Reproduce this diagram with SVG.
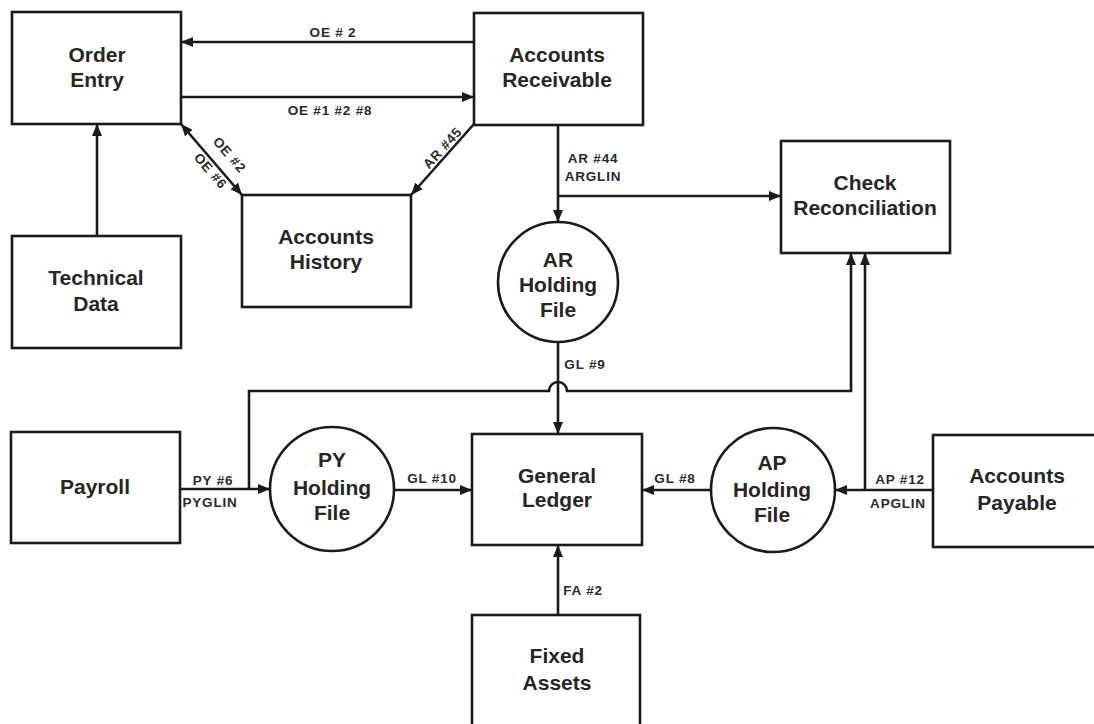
<svg xmlns="http://www.w3.org/2000/svg" width="1094" height="724" viewBox="0 0 1094 724">
<style>
.box{fill:#fff;stroke:#1a1a1a;stroke-width:2.6}
.node{font-family:"Liberation Sans",Arial,sans-serif;font-weight:bold;font-size:21px;fill:#262626;text-anchor:middle}
.lbl{font-family:"Liberation Sans",Arial,sans-serif;font-weight:bold;font-size:13.5px;fill:#2a2a2a;text-anchor:middle;letter-spacing:0.8px}
.c{fill:none;stroke:#1a1a1a;stroke-width:2.6}
.a{marker-end:url(#ah)}
</style>
<defs>
<marker id="ah" viewBox="0 0 12 10" refX="12" refY="5" markerWidth="12" markerHeight="10" markerUnits="userSpaceOnUse" orient="auto-start-reverse">
<path d="M0,0 L12,5 L0,10 Z" fill="#1a1a1a"/>
</marker>
</defs>
<rect width="1094" height="724" fill="#fff"/>
<g id="connectors">
<path class="c a" d="M474,42 H181"/>
<path class="c a" d="M181,97 H474"/>
<path class="c a" d="M97,236 V124"/>
<path class="c a" d="M474,124 L411,195"/>
<path class="c" d="M181,124 L242,195" marker-start="url(#ah)" marker-end="url(#ah)"/>
<path class="c a" d="M558,124 V222"/>
<path class="c a" d="M558,196 H781"/>
<path class="c a" d="M249,489 V391 H549 A9,9 0 0 1 567,391 H851 V253"/>
<path class="c a" d="M865,490 V253"/>
<path class="c a" d="M558,342 V434"/>
<path class="c a" d="M180,489 H270"/>
<path class="c a" d="M394,490 H472"/>
<path class="c a" d="M711,490 H642"/>
<path class="c a" d="M933,490 H835"/>
<path class="c a" d="M558,615 V545"/>
<text class="lbl" x="333" y="37">OE # 2</text>
<text class="lbl" x="330" y="115">OE #1 #2 #8</text>
<text class="lbl" transform="translate(226,158) rotate(49)" x="0" y="0">OE #2</text>
<text class="lbl" transform="translate(207,174) rotate(49)" x="0" y="0">OE #6</text>
<text class="lbl" transform="translate(446,151) rotate(-48)" x="0" y="0">AR #45</text>
<text class="lbl" x="593" y="163">AR #44</text>
<text class="lbl" x="593" y="181">ARGLIN</text>
<text class="lbl" x="585" y="369">GL #9</text>
<text class="lbl" x="213" y="485">PY #6</text>
<text class="lbl" x="210" y="507">PYGLIN</text>
<text class="lbl" x="432" y="483">GL #10</text>
<text class="lbl" x="675" y="483">GL #8</text>
<text class="lbl" x="900" y="484">AP #12</text>
<text class="lbl" x="898" y="508">APGLIN</text>
<text class="lbl" x="583" y="595">FA #2</text>
</g>
<g id="order-entry">
<rect class="box" x="12" y="12" width="169" height="112"/>
<text class="node" x="97" y="62">Order</text>
<text class="node" x="97" y="87">Entry</text>
</g>
<g id="accounts-receivable">
<rect class="box" x="474" y="13" width="169" height="112"/>
<text class="node" x="557" y="62">Accounts</text>
<text class="node" x="557" y="87">Receivable</text>
</g>
<g id="accounts-history">
<rect class="box" x="242" y="195" width="169" height="112"/>
<text class="node" x="326" y="244">Accounts</text>
<text class="node" x="326" y="269">History</text>
</g>
<g id="technical-data">
<rect class="box" x="12" y="236" width="169" height="112"/>
<text class="node" x="96" y="285">Technical</text>
<text class="node" x="96" y="311">Data</text>
</g>
<g id="check-reconciliation">
<rect class="box" x="781" y="141" width="169" height="112"/>
<text class="node" x="865" y="190">Check</text>
<text class="node" x="865" y="215">Reconciliation</text>
</g>
<g id="ar-holding-file">
<circle class="box" cx="558" cy="282" r="60"/>
<text class="node" x="558" y="267">AR</text>
<text class="node" x="558" y="292">Holding</text>
<text class="node" x="558" y="317">File</text>
</g>
<g id="payroll">
<rect class="box" x="11" y="432" width="169" height="111"/>
<text class="node" x="95" y="494">Payroll</text>
</g>
<g id="py-holding-file">
<circle class="box" cx="332" cy="489" r="62"/>
<text class="node" x="332" y="467">PY</text>
<text class="node" x="332" y="495">Holding</text>
<text class="node" x="332" y="520">File</text>
</g>
<g id="general-ledger">
<rect class="box" x="472" y="434" width="170" height="111"/>
<text class="node" x="557" y="483">General</text>
<text class="node" x="557" y="507">Ledger</text>
</g>
<g id="ap-holding-file">
<circle class="box" cx="773" cy="490" r="62"/>
<text class="node" x="772" y="470">AP</text>
<text class="node" x="772" y="497">Holding</text>
<text class="node" x="772" y="522">File</text>
</g>
<g id="accounts-payable">
<rect class="box" x="933" y="435" width="169" height="112"/>
<text class="node" x="1017" y="483">Accounts</text>
<text class="node" x="1017" y="510">Payable</text>
</g>
<g id="fixed-assets">
<rect class="box" x="472" y="615" width="168" height="112"/>
<text class="node" x="557" y="663">Fixed</text>
<text class="node" x="557" y="690">Assets</text>
</g>
</svg>
